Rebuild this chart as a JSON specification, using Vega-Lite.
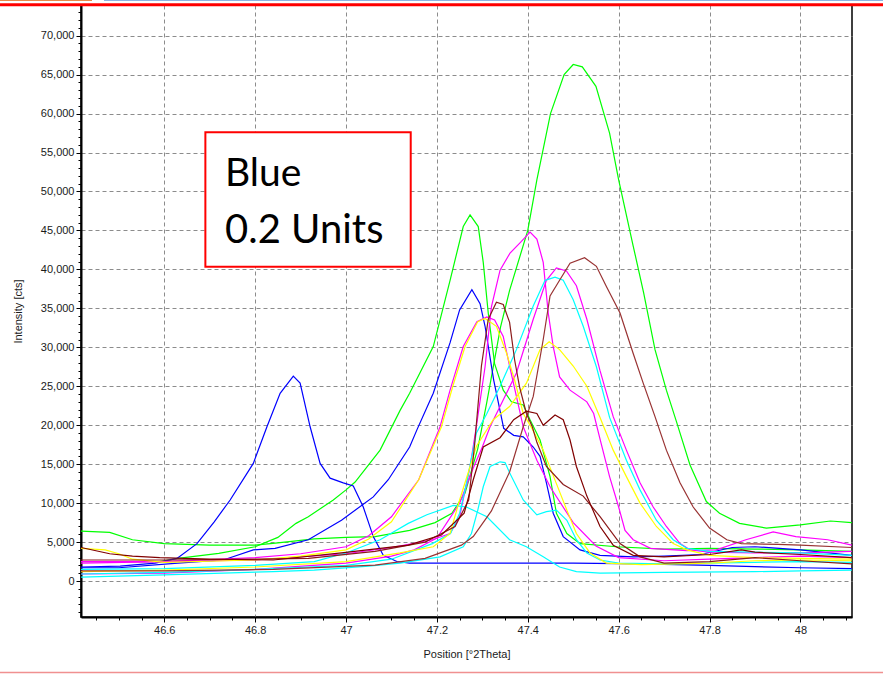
{
  "$schema": "https://vega.github.io/schema/vega-lite/v6.json",
  "width": 771,
  "height": 612,
  "autosize": "none",
  "padding": {"left": 81, "top": 5, "right": 31, "bottom": 57},
  "background": "white",
  "config": {
    "view": {"stroke": "black", "strokeWidth": 1.5},
    "axis": {
      "labelFont": "Liberation Sans",
      "labelFontSize": 11,
      "labelColor": "#1a1a1a",
      "titleFont": "Liberation Sans",
      "titleFontSize": 11,
      "titleFontWeight": "normal",
      "titleColor": "#1a1a1a",
      "domainColor": "black",
      "domainWidth": 2,
      "tickColor": "black",
      "tickSize": 5,
      "gridColor": "#8c8c8c",
      "gridDash": [4, 3],
      "gridWidth": 1,
      "labelOverlap": false,
      "labelPadding": 2
    }
  },
  "resolve": {"axis": {"x": "independent", "y": "independent"}},
  "datasets": {
    "one": [{"k": 1}]
  },
  "layer": [
    {
      "data": {
        "values": [
          {"s":"G1","x":46.417,"y":6400},{"s":"G1","x":46.48,"y":6250},{"s":"G1","x":46.53,"y":5300},{"s":"G1","x":46.6,"y":4800},{"s":"G1","x":46.7,"y":4600},{"s":"G1","x":46.8,"y":4600},{"s":"G1","x":46.85,"y":4900},{"s":"G1","x":46.93,"y":5400},{"s":"G1","x":47.0,"y":5600},{"s":"G1","x":47.064,"y":5700},{"s":"G1","x":47.14,"y":6500},{"s":"G1","x":47.196,"y":7500},{"s":"G1","x":47.233,"y":8700},{"s":"G1","x":47.262,"y":11300},{"s":"G1","x":47.29,"y":17000},{"s":"G1","x":47.31,"y":23000},{"s":"G1","x":47.34,"y":32600},{"s":"G1","x":47.36,"y":37300},{"s":"G1","x":47.4,"y":45000},{"s":"G1","x":47.42,"y":51500},{"s":"G1","x":47.45,"y":60000},{"s":"G1","x":47.48,"y":65000},{"s":"G1","x":47.5,"y":66300},{"s":"G1","x":47.52,"y":66000},{"s":"G1","x":47.55,"y":63500},{"s":"G1","x":47.58,"y":57500},{"s":"G1","x":47.6,"y":51500},{"s":"G1","x":47.632,"y":43000},{"s":"G1","x":47.655,"y":37000},{"s":"G1","x":47.68,"y":29700},{"s":"G1","x":47.705,"y":24500},{"s":"G1","x":47.727,"y":20500},{"s":"G1","x":47.757,"y":14900},{"s":"G1","x":47.793,"y":10200},{"s":"G1","x":47.822,"y":8700},{"s":"G1","x":47.866,"y":7400},{"s":"G1","x":47.925,"y":6800},{"s":"G1","x":48.0,"y":7200},{"s":"G1","x":48.066,"y":7700},{"s":"G1","x":48.113,"y":7500},
          {"s":"G2","x":46.417,"y":2500},{"s":"G2","x":46.5,"y":2500},{"s":"G2","x":46.59,"y":2500},{"s":"G2","x":46.63,"y":2900},{"s":"G2","x":46.72,"y":3550},{"s":"G2","x":46.8,"y":4400},{"s":"G2","x":46.85,"y":5600},{"s":"G2","x":46.89,"y":7400},{"s":"G2","x":46.917,"y":8250},{"s":"G2","x":46.972,"y":10400},{"s":"G2","x":47.0,"y":11700},{"s":"G2","x":47.02,"y":12700},{"s":"G2","x":47.075,"y":16800},{"s":"G2","x":47.119,"y":21900},{"s":"G2","x":47.14,"y":24100},{"s":"G2","x":47.192,"y":30100},{"s":"G2","x":47.229,"y":38600},{"s":"G2","x":47.258,"y":45500},{"s":"G2","x":47.273,"y":47000},{"s":"G2","x":47.291,"y":45500},{"s":"G2","x":47.302,"y":40900},{"s":"G2","x":47.313,"y":34400},{"s":"G2","x":47.327,"y":27900},{"s":"G2","x":47.346,"y":24500},{"s":"G2","x":47.364,"y":23000},{"s":"G2","x":47.39,"y":22600},{"s":"G2","x":47.405,"y":20700},{"s":"G2","x":47.427,"y":18100},{"s":"G2","x":47.449,"y":13400},{"s":"G2","x":47.463,"y":8700},{"s":"G2","x":47.486,"y":6100},{"s":"G2","x":47.515,"y":4800},{"s":"G2","x":47.595,"y":4400},{"s":"G2","x":47.7,"y":4100},{"s":"G2","x":47.8,"y":4200},{"s":"G2","x":47.9,"y":4100},{"s":"G2","x":48.0,"y":4000},{"s":"G2","x":48.113,"y":3800},
          {"s":"B1","x":46.417,"y":1800},{"s":"B1","x":46.503,"y":1900},{"s":"B1","x":46.58,"y":2300},{"s":"B1","x":46.628,"y":2900},{"s":"B1","x":46.672,"y":4800},{"s":"B1","x":46.71,"y":7600},{"s":"B1","x":46.745,"y":10400},{"s":"B1","x":46.796,"y":15100},{"s":"B1","x":46.826,"y":19800},{"s":"B1","x":46.855,"y":24100},{"s":"B1","x":46.884,"y":26300},{"s":"B1","x":46.899,"y":25400},{"s":"B1","x":46.921,"y":19800},{"s":"B1","x":46.943,"y":15100},{"s":"B1","x":46.965,"y":13200},{"s":"B1","x":46.994,"y":12600},{"s":"B1","x":47.016,"y":12200},{"s":"B1","x":47.038,"y":9500},{"s":"B1","x":47.06,"y":5700},{"s":"B1","x":47.082,"y":3300},{"s":"B1","x":47.112,"y":2500},{"s":"B1","x":47.14,"y":2300},{"s":"B1","x":47.3,"y":2300},{"s":"B1","x":47.5,"y":2300},{"s":"B1","x":47.65,"y":2200},{"s":"B1","x":47.8,"y":2000},{"s":"B1","x":48.0,"y":1700},{"s":"B1","x":48.113,"y":1600},
          {"s":"B2","x":46.417,"y":1700},{"s":"B2","x":46.5,"y":1700},{"s":"B2","x":46.63,"y":2300},{"s":"B2","x":46.73,"y":2700},{"s":"B2","x":46.796,"y":4000},{"s":"B2","x":46.844,"y":4200},{"s":"B2","x":46.917,"y":5300},{"s":"B2","x":46.99,"y":7800},{"s":"B2","x":47.06,"y":10800},{"s":"B2","x":47.093,"y":13000},{"s":"B2","x":47.14,"y":17200},{"s":"B2","x":47.156,"y":19400},{"s":"B2","x":47.192,"y":24100},{"s":"B2","x":47.229,"y":30600},{"s":"B2","x":47.25,"y":34800},{"s":"B2","x":47.277,"y":37400},{"s":"B2","x":47.295,"y":35600},{"s":"B2","x":47.306,"y":32700},{"s":"B2","x":47.325,"y":25800},{"s":"B2","x":47.347,"y":19600},{"s":"B2","x":47.369,"y":18700},{"s":"B2","x":47.39,"y":18500},{"s":"B2","x":47.412,"y":17200},{"s":"B2","x":47.427,"y":16000},{"s":"B2","x":47.441,"y":12600},{"s":"B2","x":47.456,"y":8700},{"s":"B2","x":47.478,"y":5700},{"s":"B2","x":47.515,"y":4000},{"s":"B2","x":47.559,"y":3300},{"s":"B2","x":47.632,"y":3100},{"s":"B2","x":47.7,"y":3200},{"s":"B2","x":47.78,"y":3400},{"s":"B2","x":47.85,"y":4300},{"s":"B2","x":47.9,"y":4400},{"s":"B2","x":48.0,"y":4000},{"s":"B2","x":48.113,"y":3300},
          {"s":"M1","x":46.417,"y":2500},{"s":"M1","x":46.6,"y":2500},{"s":"M1","x":46.8,"y":2700},{"s":"M1","x":47.0,"y":3500},{"s":"M1","x":47.1,"y":4300},{"s":"M1","x":47.19,"y":5300},{"s":"M1","x":47.229,"y":6100},{"s":"M1","x":47.25,"y":8250},{"s":"M1","x":47.273,"y":14700},{"s":"M1","x":47.287,"y":19900},{"s":"M1","x":47.306,"y":27500},{"s":"M1","x":47.32,"y":35200},{"s":"M1","x":47.339,"y":39900},{"s":"M1","x":47.361,"y":42100},{"s":"M1","x":47.386,"y":43600},{"s":"M1","x":47.405,"y":44800},{"s":"M1","x":47.42,"y":43900},{"s":"M1","x":47.434,"y":40900},{"s":"M1","x":47.445,"y":34400},{"s":"M1","x":47.456,"y":30100},{"s":"M1","x":47.47,"y":26200},{"s":"M1","x":47.493,"y":24500},{"s":"M1","x":47.53,"y":23000},{"s":"M1","x":47.545,"y":21500},{"s":"M1","x":47.56,"y":18000},{"s":"M1","x":47.58,"y":13400},{"s":"M1","x":47.6,"y":9500},{"s":"M1","x":47.614,"y":6500},{"s":"M1","x":47.632,"y":5300},{"s":"M1","x":47.67,"y":4200},{"s":"M1","x":47.75,"y":3900},{"s":"M1","x":47.815,"y":4000},{"s":"M1","x":47.88,"y":5300},{"s":"M1","x":47.94,"y":6300},{"s":"M1","x":47.99,"y":5700},{"s":"M1","x":48.06,"y":5300},{"s":"M1","x":48.113,"y":4600},
          {"s":"M2","x":46.417,"y":900},{"s":"M2","x":46.6,"y":1000},{"s":"M2","x":46.8,"y":1500},{"s":"M2","x":47.0,"y":2300},{"s":"M2","x":47.1,"y":3200},{"s":"M2","x":47.15,"y":4000},{"s":"M2","x":47.2,"y":5500},{"s":"M2","x":47.25,"y":10000},{"s":"M2","x":47.28,"y":14500},{"s":"M2","x":47.3,"y":17200},{"s":"M2","x":47.317,"y":19800},{"s":"M2","x":47.375,"y":26700},{"s":"M2","x":47.412,"y":33600},{"s":"M2","x":47.441,"y":38600},{"s":"M2","x":47.463,"y":40200},{"s":"M2","x":47.485,"y":39800},{"s":"M2","x":47.507,"y":37900},{"s":"M2","x":47.53,"y":33600},{"s":"M2","x":47.559,"y":27000},{"s":"M2","x":47.588,"y":21100},{"s":"M2","x":47.617,"y":16800},{"s":"M2","x":47.647,"y":12600},{"s":"M2","x":47.676,"y":9500},{"s":"M2","x":47.705,"y":7000},{"s":"M2","x":47.735,"y":4800},{"s":"M2","x":47.757,"y":4000},{"s":"M2","x":47.8,"y":3700},{"s":"M2","x":47.9,"y":3600},{"s":"M2","x":48.0,"y":3600},{"s":"M2","x":48.113,"y":3800},
          {"s":"M3","x":46.417,"y":2300},{"s":"M3","x":46.6,"y":2500},{"s":"M3","x":46.8,"y":3000},{"s":"M3","x":46.9,"y":3500},{"s":"M3","x":47.0,"y":4400},{"s":"M3","x":47.05,"y":5800},{"s":"M3","x":47.1,"y":8250},{"s":"M3","x":47.16,"y":13000},{"s":"M3","x":47.207,"y":19800},{"s":"M3","x":47.229,"y":24500},{"s":"M3","x":47.258,"y":30100},{"s":"M3","x":47.288,"y":33300},{"s":"M3","x":47.31,"y":33900},{"s":"M3","x":47.327,"y":33500},{"s":"M3","x":47.346,"y":31400},{"s":"M3","x":47.36,"y":27600},{"s":"M3","x":47.375,"y":23700},{"s":"M3","x":47.39,"y":19800},{"s":"M3","x":47.42,"y":15500},{"s":"M3","x":47.45,"y":12000},{"s":"M3","x":47.5,"y":7500},{"s":"M3","x":47.55,"y":4500},{"s":"M3","x":47.6,"y":3000},{"s":"M3","x":47.7,"y":2600},{"s":"M3","x":47.8,"y":2800},{"s":"M3","x":47.9,"y":3000},{"s":"M3","x":48.0,"y":3200},{"s":"M3","x":48.113,"y":3000},
          {"s":"C1","x":46.417,"y":900},{"s":"C1","x":46.6,"y":1100},{"s":"C1","x":46.8,"y":1500},{"s":"C1","x":47.0,"y":2000},{"s":"C1","x":47.1,"y":2800},{"s":"C1","x":47.19,"y":4800},{"s":"C1","x":47.23,"y":6100},{"s":"C1","x":47.25,"y":8700},{"s":"C1","x":47.265,"y":12500},{"s":"C1","x":47.287,"y":19000},{"s":"C1","x":47.31,"y":21500},{"s":"C1","x":47.339,"y":25000},{"s":"C1","x":47.375,"y":29700},{"s":"C1","x":47.412,"y":35300},{"s":"C1","x":47.438,"y":38600},{"s":"C1","x":47.46,"y":39000},{"s":"C1","x":47.478,"y":38600},{"s":"C1","x":47.5,"y":36100},{"s":"C1","x":47.522,"y":32700},{"s":"C1","x":47.551,"y":27500},{"s":"C1","x":47.58,"y":21000},{"s":"C1","x":47.617,"y":15500},{"s":"C1","x":47.647,"y":11700},{"s":"C1","x":47.683,"y":7800},{"s":"C1","x":47.72,"y":5300},{"s":"C1","x":47.75,"y":4200},{"s":"C1","x":47.8,"y":3800},{"s":"C1","x":47.9,"y":3700},{"s":"C1","x":48.0,"y":3600},{"s":"C1","x":48.113,"y":3300},
          {"s":"C2","x":46.417,"y":500},{"s":"C2","x":46.6,"y":800},{"s":"C2","x":46.84,"y":1200},{"s":"C2","x":46.93,"y":1400},{"s":"C2","x":47.05,"y":1900},{"s":"C2","x":47.119,"y":2300},{"s":"C2","x":47.207,"y":3100},{"s":"C2","x":47.258,"y":4400},{"s":"C2","x":47.276,"y":6100},{"s":"C2","x":47.29,"y":9100},{"s":"C2","x":47.302,"y":12100},{"s":"C2","x":47.317,"y":14700},{"s":"C2","x":47.339,"y":15300},{"s":"C2","x":47.35,"y":15200},{"s":"C2","x":47.36,"y":13900},{"s":"C2","x":47.39,"y":10400},{"s":"C2","x":47.42,"y":8500},{"s":"C2","x":47.441,"y":8900},{"s":"C2","x":47.463,"y":9100},{"s":"C2","x":47.486,"y":7800},{"s":"C2","x":47.507,"y":5300},{"s":"C2","x":47.53,"y":3600},{"s":"C2","x":47.559,"y":2700},{"s":"C2","x":47.6,"y":2300},{"s":"C2","x":47.7,"y":2200},{"s":"C2","x":47.8,"y":2300},{"s":"C2","x":47.9,"y":2400},{"s":"C2","x":48.0,"y":2500},{"s":"C2","x":48.113,"y":2400},
          {"s":"C3","x":46.417,"y":1500},{"s":"C3","x":46.6,"y":1600},{"s":"C3","x":46.8,"y":2000},{"s":"C3","x":46.93,"y":2500},{"s":"C3","x":47.0,"y":3600},{"s":"C3","x":47.075,"y":5300},{"s":"C3","x":47.137,"y":7400},{"s":"C3","x":47.178,"y":8500},{"s":"C3","x":47.236,"y":9700},{"s":"C3","x":47.265,"y":9500},{"s":"C3","x":47.31,"y":8250},{"s":"C3","x":47.36,"y":5300},{"s":"C3","x":47.397,"y":4400},{"s":"C3","x":47.434,"y":3100},{"s":"C3","x":47.47,"y":1800},{"s":"C3","x":47.507,"y":1200},{"s":"C3","x":47.559,"y":1000},{"s":"C3","x":47.7,"y":1100},{"s":"C3","x":47.9,"y":1200},{"s":"C3","x":48.0,"y":1300},{"s":"C3","x":48.113,"y":1400},
          {"s":"Y1","x":46.417,"y":1200},{"s":"Y1","x":46.6,"y":1400},{"s":"Y1","x":46.8,"y":1800},{"s":"Y1","x":47.0,"y":2500},{"s":"Y1","x":47.119,"y":3600},{"s":"Y1","x":47.192,"y":4400},{"s":"Y1","x":47.229,"y":6100},{"s":"Y1","x":47.25,"y":10400},{"s":"Y1","x":47.287,"y":17300},{"s":"Y1","x":47.324,"y":20700},{"s":"Y1","x":47.36,"y":22400},{"s":"Y1","x":47.397,"y":25400},{"s":"Y1","x":47.427,"y":29700},{"s":"Y1","x":47.447,"y":30700},{"s":"Y1","x":47.47,"y":29700},{"s":"Y1","x":47.5,"y":27600},{"s":"Y1","x":47.53,"y":25000},{"s":"Y1","x":47.559,"y":21000},{"s":"Y1","x":47.588,"y":16800},{"s":"Y1","x":47.617,"y":13400},{"s":"Y1","x":47.647,"y":10000},{"s":"Y1","x":47.683,"y":7000},{"s":"Y1","x":47.72,"y":4800},{"s":"Y1","x":47.75,"y":4000},{"s":"Y1","x":47.8,"y":3300},{"s":"Y1","x":47.9,"y":3000},{"s":"Y1","x":48.0,"y":2900},{"s":"Y1","x":48.113,"y":2800},
          {"s":"Y2","x":46.417,"y":4200},{"s":"Y2","x":46.47,"y":4000},{"s":"Y2","x":46.5,"y":3500},{"s":"Y2","x":46.53,"y":2800},{"s":"Y2","x":46.6,"y":2400},{"s":"Y2","x":46.8,"y":2700},{"s":"Y2","x":46.9,"y":3200},{"s":"Y2","x":47.0,"y":4000},{"s":"Y2","x":47.05,"y":5400},{"s":"Y2","x":47.1,"y":7600},{"s":"Y2","x":47.16,"y":13000},{"s":"Y2","x":47.21,"y":19800},{"s":"Y2","x":47.235,"y":25000},{"s":"Y2","x":47.262,"y":30100},{"s":"Y2","x":47.29,"y":33300},{"s":"Y2","x":47.306,"y":33700},{"s":"Y2","x":47.331,"y":32700},{"s":"Y2","x":47.353,"y":29300},{"s":"Y2","x":47.371,"y":25800},{"s":"Y2","x":47.39,"y":21500},{"s":"Y2","x":47.41,"y":19500},{"s":"Y2","x":47.434,"y":16800},{"s":"Y2","x":47.463,"y":12500},{"s":"Y2","x":47.486,"y":9100},{"s":"Y2","x":47.507,"y":6100},{"s":"Y2","x":47.537,"y":3600},{"s":"Y2","x":47.573,"y":2300},{"s":"Y2","x":47.65,"y":2100},{"s":"Y2","x":47.8,"y":2300},{"s":"Y2","x":47.9,"y":2600},{"s":"Y2","x":48.0,"y":2700},{"s":"Y2","x":48.113,"y":2600},
          {"s":"R1","x":46.417,"y":1300},{"s":"R1","x":46.6,"y":1300},{"s":"R1","x":46.84,"y":1500},{"s":"R1","x":47.064,"y":2050},{"s":"R1","x":47.174,"y":2900},{"s":"R1","x":47.254,"y":4600},{"s":"R1","x":47.28,"y":5700},{"s":"R1","x":47.32,"y":9000},{"s":"R1","x":47.36,"y":14000},{"s":"R1","x":47.39,"y":19800},{"s":"R1","x":47.412,"y":23700},{"s":"R1","x":47.434,"y":31000},{"s":"R1","x":47.449,"y":36600},{"s":"R1","x":47.47,"y":38600},{"s":"R1","x":47.493,"y":40800},{"s":"R1","x":47.525,"y":41500},{"s":"R1","x":47.551,"y":40400},{"s":"R1","x":47.573,"y":37800},{"s":"R1","x":47.603,"y":34400},{"s":"R1","x":47.632,"y":29200},{"s":"R1","x":47.654,"y":25400},{"s":"R1","x":47.68,"y":21100},{"s":"R1","x":47.705,"y":16800},{"s":"R1","x":47.735,"y":12600},{"s":"R1","x":47.764,"y":9500},{"s":"R1","x":47.8,"y":6800},{"s":"R1","x":47.838,"y":5300},{"s":"R1","x":47.87,"y":4800},{"s":"R1","x":47.95,"y":4700},{"s":"R1","x":48.0,"y":4600},{"s":"R1","x":48.113,"y":4300},
          {"s":"R2","x":46.417,"y":2700},{"s":"R2","x":46.6,"y":2700},{"s":"R2","x":46.8,"y":2800},{"s":"R2","x":46.917,"y":2900},{"s":"R2","x":47.064,"y":3800},{"s":"R2","x":47.174,"y":5000},{"s":"R2","x":47.24,"y":7000},{"s":"R2","x":47.27,"y":10400},{"s":"R2","x":47.283,"y":17500},{"s":"R2","x":47.298,"y":27600},{"s":"R2","x":47.313,"y":33600},{"s":"R2","x":47.331,"y":35800},{"s":"R2","x":47.346,"y":35500},{"s":"R2","x":47.36,"y":33200},{"s":"R2","x":47.371,"y":28400},{"s":"R2","x":47.382,"y":24900},{"s":"R2","x":47.397,"y":21500},{"s":"R2","x":47.41,"y":19800},{"s":"R2","x":47.42,"y":17800},{"s":"R2","x":47.441,"y":14700},{"s":"R2","x":47.478,"y":12400},{"s":"R2","x":47.522,"y":10900},{"s":"R2","x":47.559,"y":8250},{"s":"R2","x":47.603,"y":4800},{"s":"R2","x":47.647,"y":3100},{"s":"R2","x":47.7,"y":2300},{"s":"R2","x":47.8,"y":2500},{"s":"R2","x":47.9,"y":3000},{"s":"R2","x":48.0,"y":2600},{"s":"R2","x":48.113,"y":2200},
          {"s":"R3","x":46.417,"y":4300},{"s":"R3","x":46.48,"y":3500},{"s":"R3","x":46.53,"y":3200},{"s":"R3","x":46.59,"y":3000},{"s":"R3","x":46.7,"y":2800},{"s":"R3","x":46.84,"y":2700},{"s":"R3","x":46.99,"y":3600},{"s":"R3","x":47.137,"y":4600},{"s":"R3","x":47.21,"y":5900},{"s":"R3","x":47.26,"y":8700},{"s":"R3","x":47.28,"y":13000},{"s":"R3","x":47.302,"y":17200},{"s":"R3","x":47.339,"y":18400},{"s":"R3","x":47.369,"y":20700},{"s":"R3","x":47.397,"y":21800},{"s":"R3","x":47.42,"y":21500},{"s":"R3","x":47.434,"y":20000},{"s":"R3","x":47.46,"y":21300},{"s":"R3","x":47.478,"y":20700},{"s":"R3","x":47.493,"y":18100},{"s":"R3","x":47.507,"y":14700},{"s":"R3","x":47.53,"y":10900},{"s":"R3","x":47.559,"y":7000},{"s":"R3","x":47.588,"y":4600},{"s":"R3","x":47.632,"y":3300},{"s":"R3","x":47.7,"y":3100},{"s":"R3","x":47.8,"y":3400},{"s":"R3","x":47.87,"y":4000},{"s":"R3","x":47.9,"y":3700},{"s":"R3","x":48.0,"y":3400},{"s":"R3","x":48.113,"y":3000}
        ]
      },
      "mark": {"type": "line", "strokeWidth": 1.2, "clip": true},
      "encoding": {
        "x": {
          "field": "x", "type": "quantitative",
          "scale": {"domain": [46.4168, 48.1135], "nice": false, "zero": false},
          "axis": {
            "orient": "bottom",
            "title": "Position [°2Theta]",
            "titlePadding": 13,
            "values": [46.6, 46.8, 47.0, 47.2, 47.4, 47.6, 47.8, 48.0],
            "format": "~g"
          }
        },
        "y": {
          "field": "y", "type": "quantitative",
          "scale": {"domain": [-4620, 73940], "nice": false, "zero": false},
          "axis": {
            "orient": "left",
            "title": "Intensity [cts]",
            "titlePadding": 17,
            "values": [0, 5000, 10000, 15000, 20000, 25000, 30000, 35000, 40000, 45000, 50000, 55000, 60000, 65000, 70000],
            "format": ",d"
          }
        },
        "color": {
          "field": "s", "type": "nominal", "legend": null,
          "scale": {
            "domain": ["G1","G2","B1","B2","M1","M2","M3","C1","C2","C3","Y1","Y2","R1","R2","R3"],
            "range": ["#00ff00","#00ff00","#0000ff","#0000ff","#ff00ff","#ff00ff","#ff00ff","#00ffff","#00ffff","#00ffff","#ffff00","#ffff00","#993333","#8b1a1a","#800000"]
          }
        }
      }
    },
    {
      "data": {"name": "one"},
      "mark": {"type": "rule", "opacity": 0},
      "encoding": {
        "x": {
          "datum": 47.0, "type": "quantitative",
          "axis": {
            "orient": "bottom", "title": null, "labels": false, "grid": false, "domain": false, "tickSize": 3,
            "values": [46.45,46.5,46.55,46.65,46.7,46.75,46.85,46.9,46.95,47.05,47.1,47.15,47.25,47.3,47.35,47.45,47.5,47.55,47.65,47.7,47.75,47.85,47.9,47.95,48.05,48.1]
          }
        },
        "y": {
          "datum": 0, "type": "quantitative",
          "axis": {
            "orient": "left", "title": null, "labels": false, "grid": false, "domain": false, "tickSize": 3,
            "values": [-4000,-3000,-2000,-1000,1000,2000,3000,4000,6000,7000,8000,9000,11000,12000,13000,14000,16000,17000,18000,19000,21000,22000,23000,24000,26000,27000,28000,29000,31000,32000,33000,34000,36000,37000,38000,39000,41000,42000,43000,44000,46000,47000,48000,49000,51000,52000,53000,54000,56000,57000,58000,59000,61000,62000,63000,64000,66000,67000,68000,69000,71000,72000,73000]
          }
        }
      }
    },
    {
      "data": {"name": "one"},
      "mark": {"type": "rect", "fill": "white", "stroke": "#ff0000", "strokeWidth": 2},
      "encoding": {
        "x": {"datum": 46.6905, "type": "quantitative", "axis": null},
        "x2": {"datum": 47.1424},
        "y": {"datum": 57600, "type": "quantitative", "axis": null},
        "y2": {"datum": 40346}
      }
    },
    {
      "data": {"name": "one"},
      "mark": {"type": "text", "text": "Blue", "font": "Lato", "fontSize": 39, "align": "left", "baseline": "alphabetic", "color": "black"},
      "encoding": {
        "x": {"datum": 46.7337, "type": "quantitative", "axis": null},
        "y": {"datum": 50744, "type": "quantitative", "axis": null}
      }
    },
    {
      "data": {"name": "one"},
      "mark": {"type": "text", "text": "0.2 Units", "font": "Lato", "fontSize": 40, "align": "left", "baseline": "alphabetic", "color": "black"},
      "encoding": {
        "x": {"datum": 46.7337, "type": "quantitative", "axis": null},
        "y": {"datum": 43349, "type": "quantitative", "axis": null}
      }
    },
    {
      "data": {"name": "one"},
      "mark": {"type": "rule", "color": "#ff0000", "strokeWidth": 3},
      "encoding": {
        "x": {"datum": 46.2385, "type": "quantitative", "axis": null},
        "x2": {"datum": 48.1818},
        "y": {"datum": 73960, "type": "quantitative", "axis": null}
      }
    },
    {
      "data": {"name": "one"},
      "mark": {"type": "rule", "color": "#e8894a", "strokeWidth": 1.5},
      "encoding": {
        "x": {"datum": 46.2385, "type": "quantitative", "axis": null},
        "x2": {"datum": 46.441},
        "y": {"datum": 74540, "type": "quantitative", "axis": null}
      }
    },
    {
      "data": {"name": "one"},
      "mark": {"type": "rule", "color": "#8eb4e3", "strokeWidth": 1.5},
      "encoding": {
        "x": {"datum": 46.4674, "type": "quantitative", "axis": null},
        "x2": {"datum": 48.1818},
        "y": {"datum": 74540, "type": "quantitative", "axis": null}
      }
    },
    {
      "data": {"name": "one"},
      "mark": {"type": "rule", "color": "#f09090", "strokeWidth": 1.5},
      "encoding": {
        "x": {"datum": 46.2385, "type": "quantitative", "axis": null},
        "x2": {"datum": 48.1818},
        "y": {"datum": -11747, "type": "quantitative", "axis": null}
      }
    }
  ]
}
